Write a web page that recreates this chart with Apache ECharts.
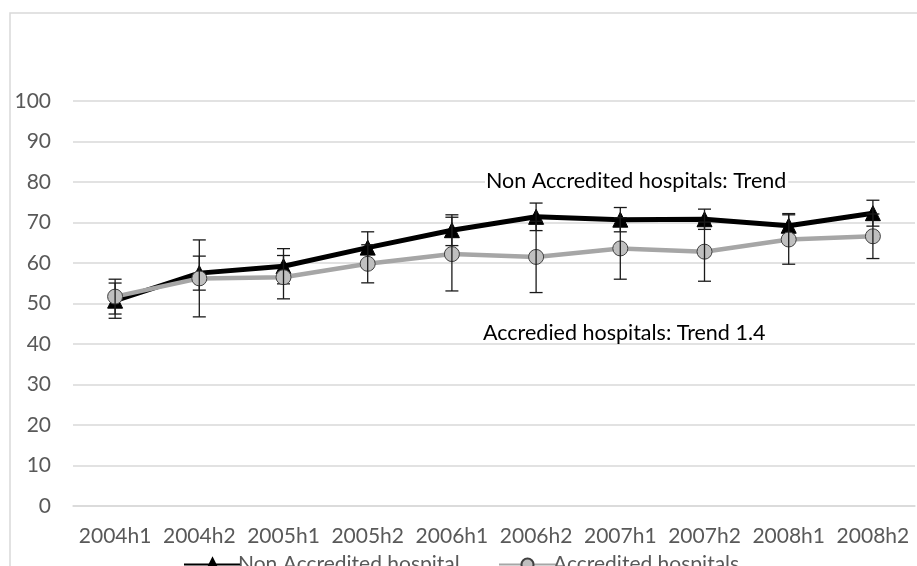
<!DOCTYPE html>
<html>
<head>
<meta charset="utf-8">
<script src="https://cdn.jsdelivr.net/npm/echarts@6/dist/echarts.min.js"></script>
<style>
  html, body { margin: 0; padding: 0; background: #fff; }
  #chart { width: 917px; height: 566px; }
</style>
</head>
<body>
<div id="chart"></div>
<script>
// Half-year periods
const categories = ['2004h1', '2004h2', '2005h1', '2005h2', '2006h1', '2006h2', '2007h1', '2007h2', '2008h1', '2008h2'];

// Mean scores per period
const nonAccredited = [50.7, 57.5, 59.2, 63.8, 68.1, 71.4, 70.7, 70.8, 69.2, 72.3];
const accredited    = [51.7, 56.2, 56.5, 59.8, 62.2, 61.5, 63.6, 62.8, 65.8, 66.6];

// Half-width of the error bar at each period
const nonAccreditedErr = [4.35, 4.2, 4.35, 3.9, 3.8, 3.4, 3.0, 2.5, 3.0, 3.2];
const accreditedErr    = [4.3, 9.5, 5.35, 4.7, 9.1, 8.8, 7.6, 7.3, 6.1, 5.5];

// Value axis ticks
const yMin = 0, yMax = 100, yStep = 10;

const seriesNames = ['Non Accredited hospital', 'Accredited hospitals'];
const trendNotes = ['Non Accredited hospitals: Trend', 'Accredied hospitals: Trend 1.4'];

const FONT = 'Lato';
const TEXT_GREY = '#595959';

function errorData(values, errs) {
  return values.map((v, i) => [i, v - errs[i], v + errs[i]]);
}

function renderErrorBar(params, api) {
  const i = api.value(0);
  const lo = api.coord([i, api.value(1)]);
  const hi = api.coord([i, api.value(2)]);
  const cap = 6.5;
  const style = { stroke: '#1a1a1a', lineWidth: 1.3 };
  return {
    type: 'group',
    children: [
      { type: 'line', shape: { x1: lo[0], y1: lo[1], x2: hi[0], y2: hi[1] }, style },
      { type: 'line', shape: { x1: lo[0] - cap, y1: lo[1], x2: lo[0] + cap, y2: lo[1] }, style },
      { type: 'line', shape: { x1: hi[0] - cap, y1: hi[1], x2: hi[0] + cap, y2: hi[1] }, style }
    ]
  };
}

const chart = echarts.init(document.getElementById('chart'), null, { renderer: 'canvas' });

chart.setOption({
  backgroundColor: '#ffffff',
  animation: false,
  textStyle: { fontFamily: FONT },
  grid: { left: 73, right: 2, top: 101, bottom: 60, containLabel: false },
  xAxis: {
    type: 'category',
    data: categories,
    boundaryGap: true,
    axisLine: { show: true, lineStyle: { color: '#d9d9d9', width: 1.5 } },
    axisTick: { show: false },
    axisLabel: { color: TEXT_GREY, fontSize: 21, fontFamily: FONT, margin: 20, interval: 0 },
    splitLine: { show: false }
  },
  yAxis: {
    type: 'value',
    min: yMin,
    max: yMax,
    interval: yStep,
    axisLine: { show: false },
    axisTick: { show: false },
    axisLabel: { color: TEXT_GREY, fontSize: 21, fontFamily: FONT, margin: 22 },
    splitLine: { lineStyle: { color: '#d9d9d9', width: 1.5 } }
  },
  legend: [
    {
      data: [seriesNames[0]],
      left: 178, top: 549,
      itemWidth: 57, itemHeight: 15,
      textStyle: { color: TEXT_GREY, fontSize: 21, fontFamily: FONT, padding: [0, 0, 0, -8] }
    },
    {
      data: [seriesNames[1]],
      left: 493, top: 549,
      itemWidth: 57, itemHeight: 15,
      textStyle: { color: TEXT_GREY, fontSize: 21, fontFamily: FONT, padding: [0, 0, 0, -8] }
    }
  ],
  graphic: [
    {
      type: 'rect',
      shape: { x: 10, y: 13, width: 920, height: 570 },
      style: { fill: 'none', stroke: '#d9d9d9', lineWidth: 1.5 },
      silent: true, z: -10
    },
    {
      type: 'text', left: 485, top: 169, z: 1,
      style: {
        text: trendNotes[0], fill: '#000', font: '21.5px ' + FONT,
        backgroundColor: '#ffffff', padding: [1, 2, 1, 1]
      }
    },
    {
      type: 'text', left: 483, top: 322, z: 1,
      style: { text: trendNotes[1], fill: '#000', font: '21.5px ' + FONT }
    }
  ],
  series: [
    {
      name: seriesNames[0],
      type: 'line',
      data: nonAccredited,
      z: 2,
      symbol: 'triangle',
      symbolSize: 15,
      lineStyle: { color: '#000000', width: 5 },
      itemStyle: { color: '#000000', borderColor: '#000000', borderWidth: 1 }
    },
    {
      name: seriesNames[0] + ' error',
      type: 'custom',
      z: 3,
      renderItem: renderErrorBar,
      data: errorData(nonAccredited, nonAccreditedErr),
      encode: { x: 0, y: [1, 2] },
      silent: true
    },
    {
      name: seriesNames[1],
      type: 'line',
      data: accredited,
      z: 4,
      symbol: 'circle',
      symbolSize: 15,
      lineStyle: { color: '#a6a6a6', width: 4.5 },
      itemStyle: { color: '#bfbfbf', borderColor: '#404040', borderWidth: 1 }
    },
    {
      name: seriesNames[1] + ' error',
      type: 'custom',
      z: 5,
      renderItem: renderErrorBar,
      data: errorData(accredited, accreditedErr),
      encode: { x: 0, y: [1, 2] },
      silent: true
    }
  ]
});
</script>
</body>
</html>
